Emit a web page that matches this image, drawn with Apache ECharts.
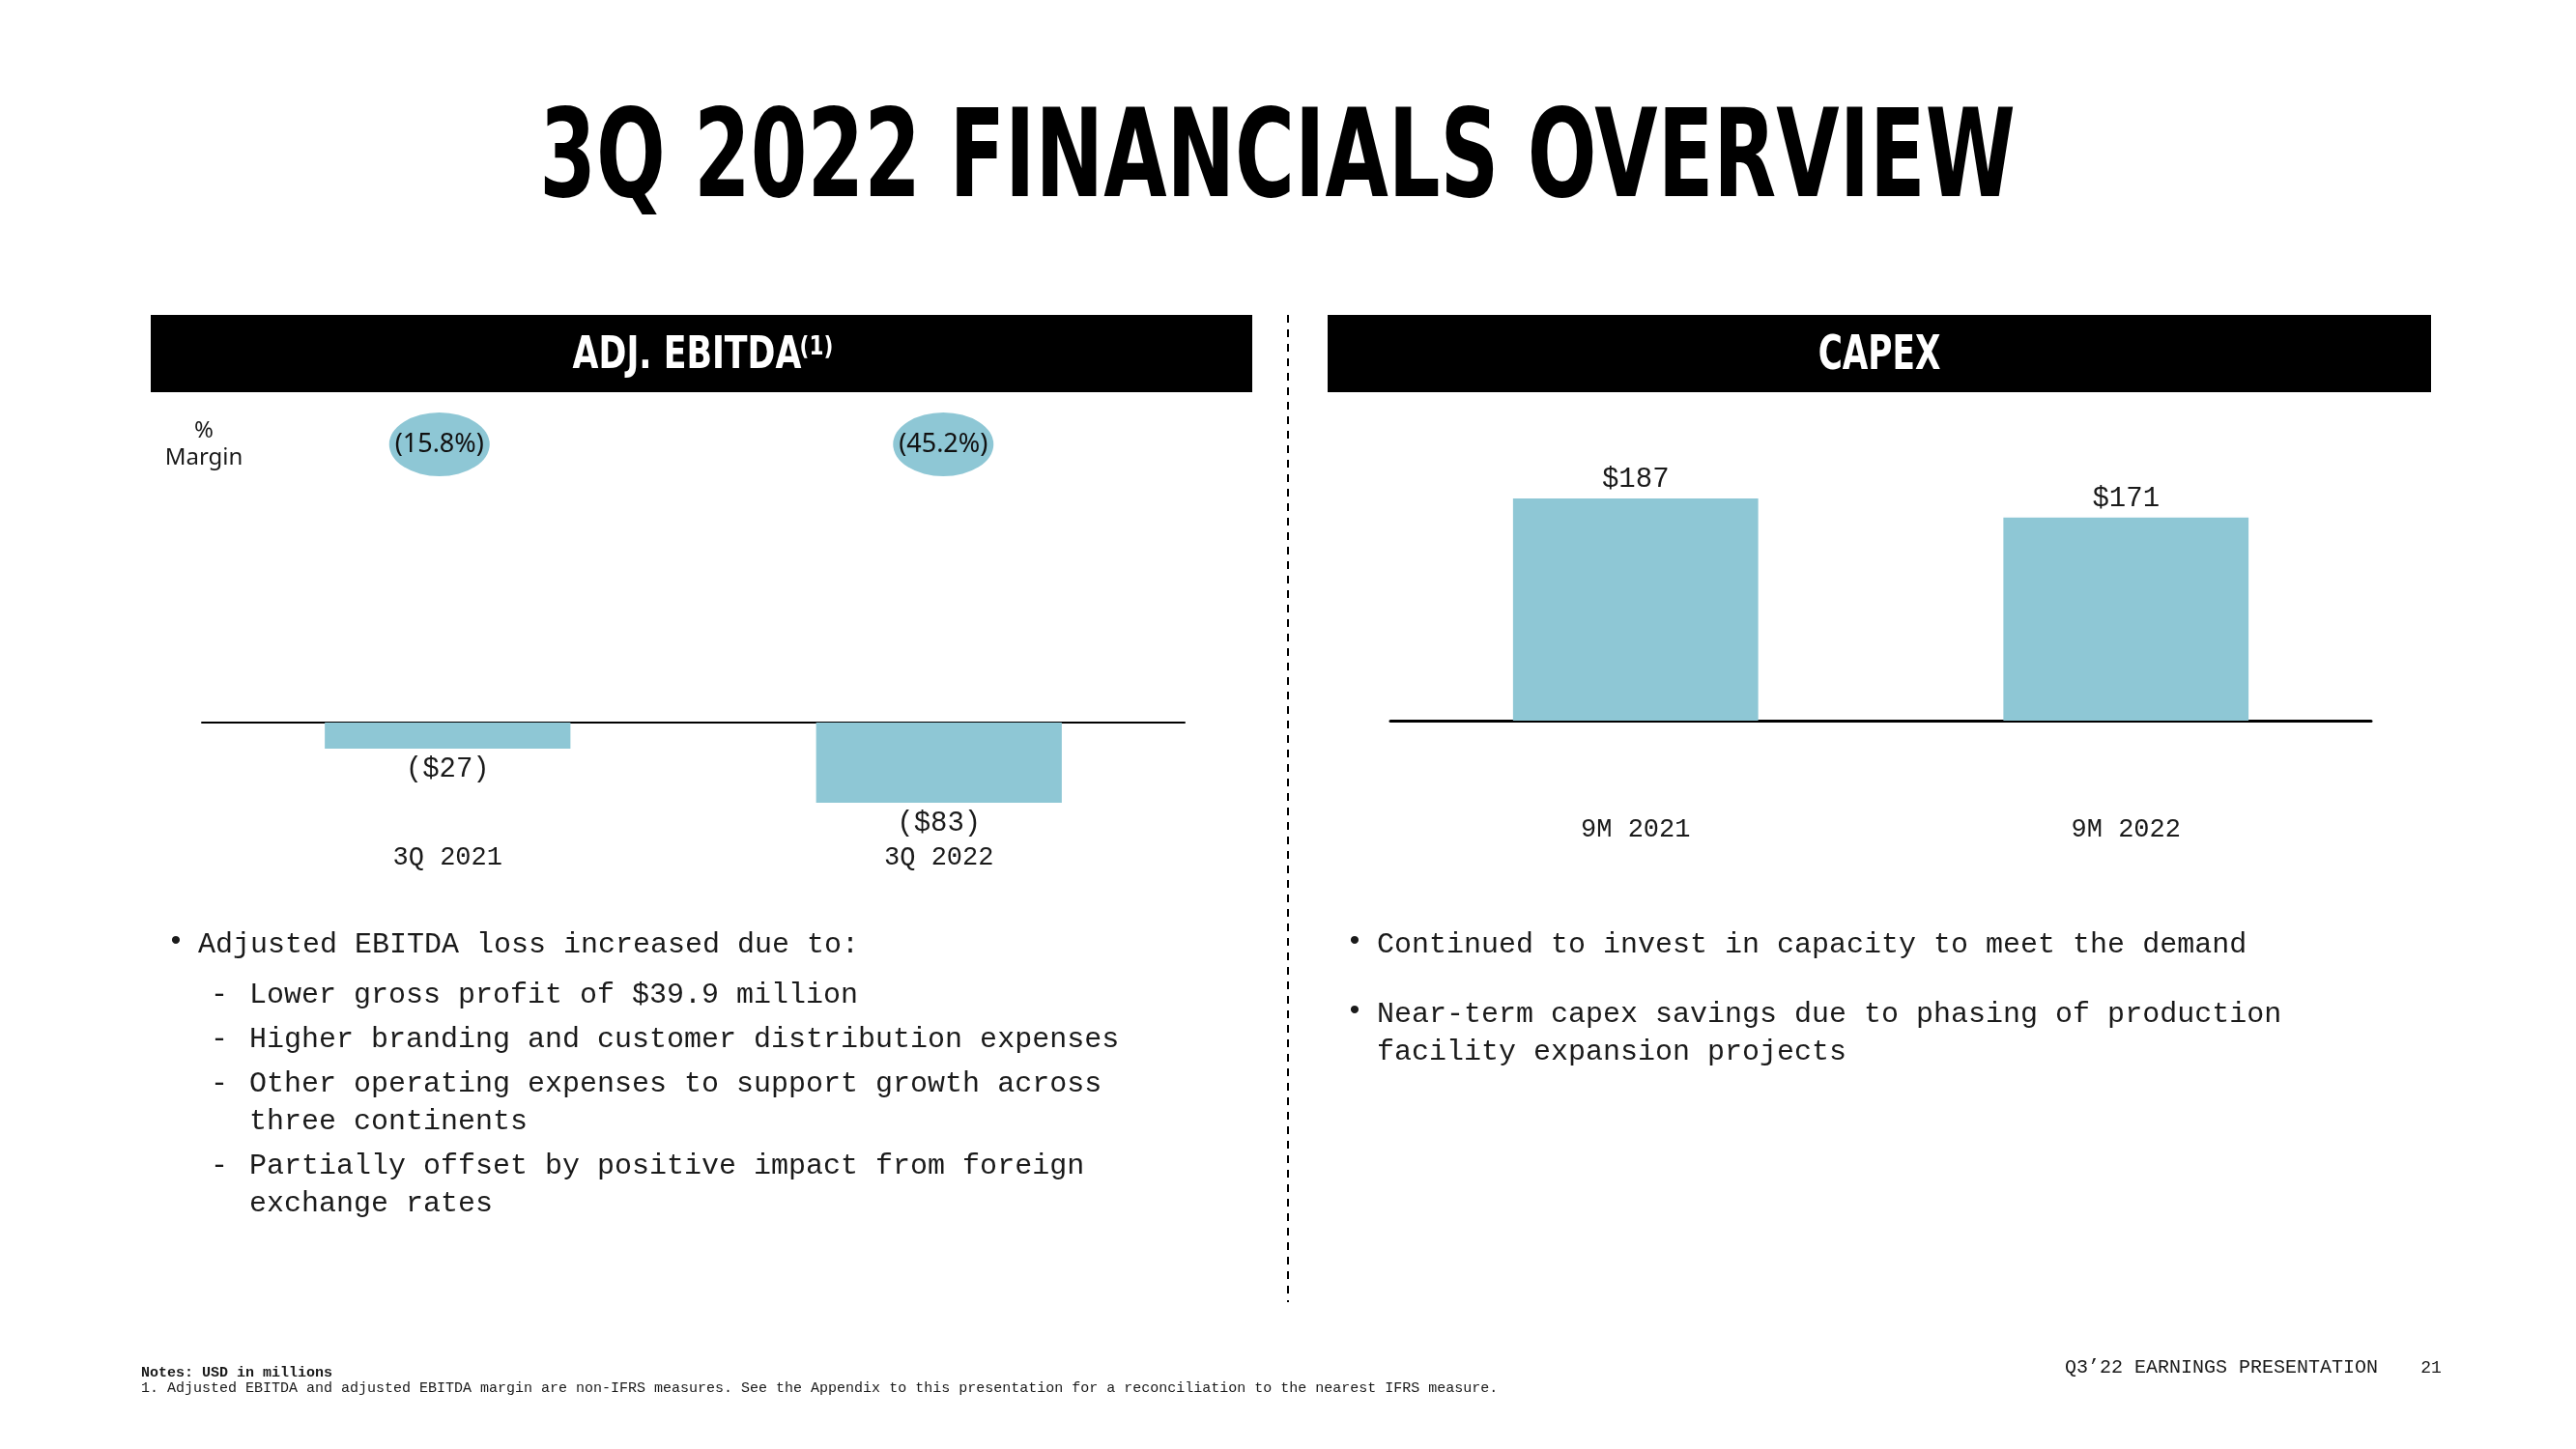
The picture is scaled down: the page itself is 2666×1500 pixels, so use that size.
<!DOCTYPE html>
<html>
<head>
<meta charset="utf-8">
<script src="https://cdn.jsdelivr.net/npm/echarts@6/dist/echarts.min.js"></script>
<style>
html,body{margin:0;padding:0;background:#fff;}
#chart{width:2666px;height:1500px;}
</style>
</head>
<body>
<div id="chart"></div>
<script>
// ---- data ----
const ebitdaCategories = ['3Q 2021', '3Q 2022'];
const ebitdaValues = [-27, -83];
const ebitdaMargins = [-15.8, -45.2];
const capexCategories = ['9M 2021', '9M 2022'];
const capexValues = [187, 171];

const pageTitle = '3Q 2022 FINANCIALS OVERVIEW';
const leftHeader = 'ADJ. EBITDA';
const leftHeaderNote = '(1)';
const rightHeader = 'CAPEX';
const ebitdaBullet = 'Adjusted EBITDA loss increased due to:';
const ebitdaSubBullets = [
  ['Lower gross profit of $39.9 million'],
  ['Higher branding and customer distribution expenses'],
  ['Other operating expenses to support growth across', 'three continents'],
  ['Partially offset by positive impact from foreign', 'exchange rates']
];
const capexBullets = [
  ['Continued to invest in capacity to meet the demand'],
  ['Near-term capex savings due to phasing of production', 'facility expansion projects']
];
const notesLine = 'Notes: USD in millions';
const footnoteLine = '1. Adjusted EBITDA and adjusted EBITDA margin are non-IFRS measures. See the Appendix to this presentation for a reconciliation to the nearest IFRS measure.';
const footerText = 'Q3\u201922 EARNINGS PRESENTATION';
const pageNumber = '21';

// ---- styles ----
const BLUE = '#8EC7D5';
const MONO = '"Liberation Mono", "DejaVu Sans Mono", monospace';
const HEAVY = '"DejaVu Sans", sans-serif';
const SANS = '"Noto Sans", sans-serif';
const TXT = '#1a1a1a';

const chart = echarts.init(document.getElementById('chart'), null, {renderer: 'canvas'});

function fmtMoney(v) {
  return v < 0 ? '($' + Math.abs(v) + ')' : '$' + v;
}
function fmtPct(v) {
  return v < 0 ? '(' + Math.abs(v).toFixed(1) + '%)' : v.toFixed(1) + '%';
}

// ---- graphic (texts, headers) ----
const graphics = [];
graphics.push({
  type: 'text', x: 1322, y: 170, scaleX: 0.67, scaleY: 1,
  style: {text: pageTitle, fill: '#000', font: 'bold 126px ' + HEAVY, textAlign: 'center', textVerticalAlign: 'middle'}
});
graphics.push({type: 'rect', shape: {x: 156, y: 326, width: 1140, height: 80}, style: {fill: '#000'}});
graphics.push({type: 'rect', shape: {x: 1374, y: 326, width: 1142, height: 80}, style: {fill: '#000'}});
graphics.push({
  type: 'text', x: 711, y: 369, scaleX: 0.74,
  style: {text: leftHeader, fill: '#fff', font: 'bold 47px ' + HEAVY, textAlign: 'center', textVerticalAlign: 'middle'}
});
graphics.push({
  type: 'text', x: 845, y: 360, scaleX: 0.8,
  style: {text: leftHeaderNote, fill: '#fff', font: 'bold 27px ' + HEAVY, textAlign: 'center', textVerticalAlign: 'middle'}
});
graphics.push({
  type: 'text', x: 1945, y: 369, scaleX: 0.7,
  style: {text: rightHeader, fill: '#fff', font: 'bold 49px ' + HEAVY, textAlign: 'center', textVerticalAlign: 'middle'}
});
// dashed separator
graphics.push({
  type: 'line', shape: {x1: 1333, y1: 326, x2: 1333, y2: 1348},
  style: {stroke: '#000', lineWidth: 2, lineDash: [8, 7]}
});
// % Margin label
graphics.push({type: 'text', x: 211, y: 446, style: {text: '%', fill: TXT, font: '24px ' + SANS, textAlign: 'center', textVerticalAlign: 'middle'}});
graphics.push({type: 'text', x: 211, y: 474, style: {text: 'Margin', fill: TXT, font: '24px ' + SANS, textAlign: 'center', textVerticalAlign: 'middle'}});

// left bullets
const bulletFont = '30px ' + MONO;
graphics.push({type: 'text', x: 173, y: 975, style: {text: '\u2022', fill: TXT, font: bulletFont, textVerticalAlign: 'middle'}});
graphics.push({type: 'text', x: 205, y: 978, style: {text: ebitdaBullet, fill: TXT, font: bulletFont, textVerticalAlign: 'middle'}});
const subY = [[1030], [1076], [1122, 1161], [1207, 1246]];
ebitdaSubBullets.forEach((lines, i) => {
  graphics.push({type: 'text', x: 218, y: subY[i][0], style: {text: '-', fill: TXT, font: bulletFont, textVerticalAlign: 'middle'}});
  lines.forEach((ln, j) => {
    graphics.push({type: 'text', x: 258, y: subY[i][j], style: {text: ln, fill: TXT, font: bulletFont, textVerticalAlign: 'middle'}});
  });
});
// right bullets
const capY = [[978], [1050, 1089]];
capexBullets.forEach((lines, i) => {
  graphics.push({type: 'text', x: 1393, y: capY[i][0] - 3, style: {text: '\u2022', fill: TXT, font: bulletFont, textVerticalAlign: 'middle'}});
  lines.forEach((ln, j) => {
    graphics.push({type: 'text', x: 1425, y: capY[i][j], style: {text: ln, fill: TXT, font: bulletFont, textVerticalAlign: 'middle'}});
  });
});
// footnotes
graphics.push({type: 'text', x: 146, y: 1421, style: {text: notesLine, fill: TXT, font: 'bold 15px ' + MONO, textVerticalAlign: 'middle'}});
graphics.push({type: 'text', x: 146, y: 1437, style: {text: footnoteLine, fill: TXT, font: '15px ' + MONO, textVerticalAlign: 'middle'}});
graphics.push({type: 'text', x: 2137, y: 1416, style: {text: footerText, fill: TXT, font: '20px ' + MONO, textVerticalAlign: 'middle'}});
graphics.push({type: 'text', x: 2516, y: 1416, style: {text: pageNumber, fill: TXT, font: '18px ' + MONO, textAlign: 'center', textVerticalAlign: 'middle'}});

const option = {
  backgroundColor: '#fff',
  animation: false,
  grid: [
    {left: 209, right: 1440, top: 448, height: 400},   // EBITDA bars
    {left: 1439, right: 212, top: 500, height: 246},   // CAPEX bars
    {left: 194, right: 1429, top: 427, height: 66}     // margin bubbles
  ],
  xAxis: [
    {
      gridIndex: 0, type: 'category', data: ebitdaCategories,
      axisLine: {lineStyle: {color: '#000', width: 2}}, axisTick: {show: false},
      axisLabel: {margin: 26, color: TXT, fontFamily: MONO, fontSize: 27}
    },
    {
      gridIndex: 1, type: 'category', data: capexCategories,
      axisLine: {lineStyle: {color: '#000', width: 3}}, axisTick: {show: false},
      axisLabel: {margin: 99, color: TXT, fontFamily: MONO, fontSize: 27}
    },
    {gridIndex: 2, type: 'category', data: ebitdaCategories, show: false}
  ],
  yAxis: [
    {gridIndex: 0, type: 'value', min: -100, max: 300, show: false, splitLine: {show: false}},
    {gridIndex: 1, type: 'value', min: 0, max: 200, show: false, splitLine: {show: false}},
    {gridIndex: 2, type: 'category', data: ['margin'], show: false}
  ],
  series: [
    {
      type: 'bar', xAxisIndex: 0, yAxisIndex: 0, data: ebitdaValues, barWidth: '50%',
      itemStyle: {color: BLUE},
      label: {show: true, position: 'bottom', distance: 7, color: TXT, fontFamily: MONO, fontSize: 29,
        formatter: p => fmtMoney(p.value)}
    },
    {
      type: 'bar', xAxisIndex: 1, yAxisIndex: 1, data: capexValues, barWidth: '50%',
      itemStyle: {color: BLUE},
      label: {show: true, position: 'top', distance: 5, color: TXT, fontFamily: MONO, fontSize: 29,
        formatter: p => fmtMoney(p.value)}
    },
    {
      type: 'scatter', xAxisIndex: 2, yAxisIndex: 2,
      data: ebitdaMargins.map((m, i) => [ebitdaCategories[i], 'margin', m]),
      symbol: 'circle', symbolSize: [104, 66],
      itemStyle: {color: BLUE, opacity: 1},
      label: {show: true, position: 'inside', color: '#111', fontFamily: SANS, fontSize: 27,
        formatter: p => fmtPct(p.value[2])}
    }
  ],
  graphic: graphics
};
chart.setOption(option);
</script>
</body>
</html>
